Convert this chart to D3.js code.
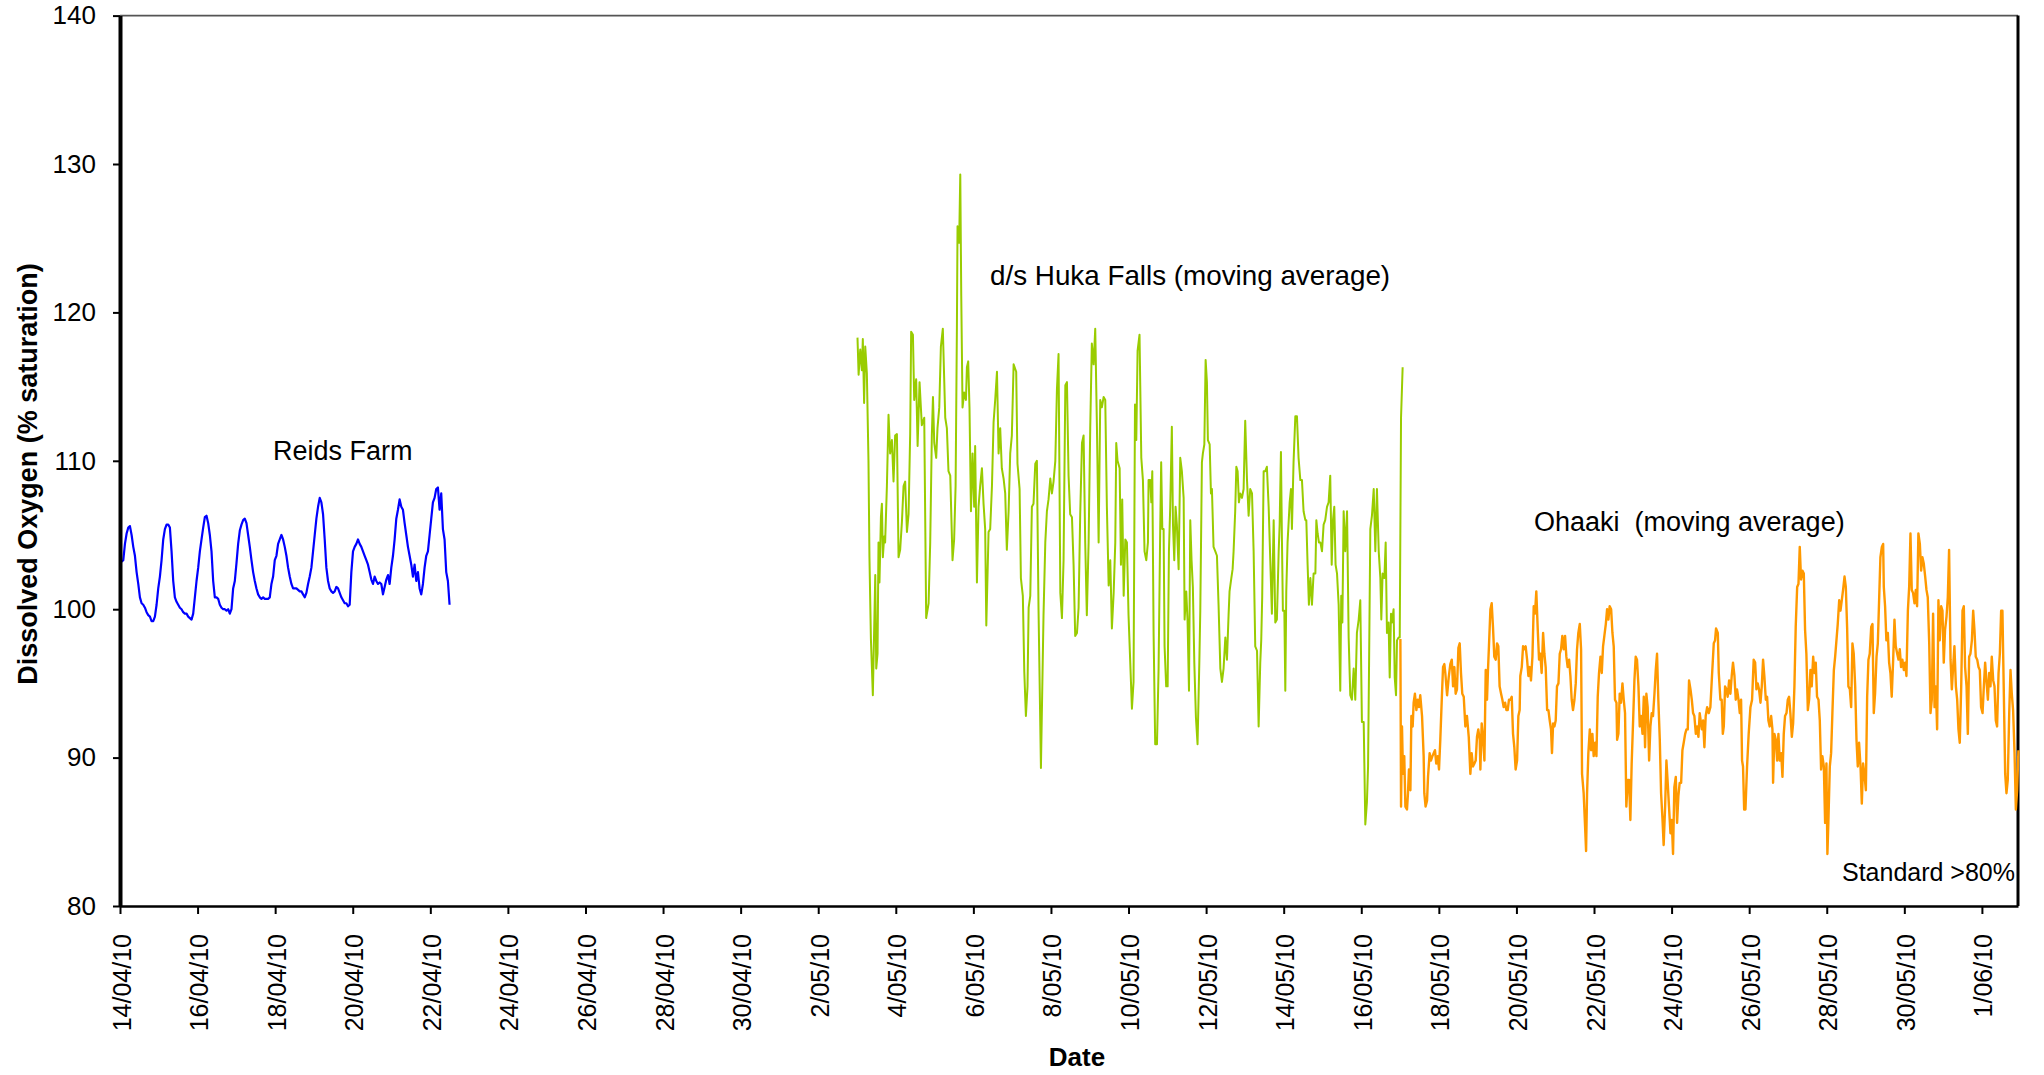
<!DOCTYPE html>
<html>
<head>
<meta charset="utf-8">
<script src="https://cdn.jsdelivr.net/npm/d3@7"></script>
<style>
  body { margin: 0; background: #fff; }
  svg { display: block; font-family: "Liberation Sans", Arial, sans-serif; }
  .tick text { font-size: 25px; fill: #000; }
  .label { font-size: 27px; fill: #000; white-space: pre; }
  .title { font-size: 27px; font-weight: bold; fill: #000; }
</style>
</head>
<body>
<svg id="chart" width="2044" height="1075"></svg>
<script>
// Reids Farm: hourly-ish readings, hours counted from 14/04/2010 00:00
const reidsStart = new Date(2010, 3, 14);
const reidsFirstHour = 1.0;
const reidsStepHours = 1.03;
const reidsDO = [
  103.2,103.3,104.4,105.1,105.5,105.6,105.0,104.2,103.6,102.5,
  101.7,100.8,100.4,100.3,100.1,99.8,99.6,99.5,99.2,99.2,
  99.5,100.3,101.4,102.2,103.3,104.7,105.4,105.7,105.7,105.5,
  103.9,101.9,100.8,100.5,100.3,100.1,100.0,99.8,99.7,99.7,
  99.5,99.4,99.3,99.7,100.8,101.9,102.8,103.9,104.7,105.5,
  106.2,106.3,105.8,105.0,103.9,101.9,100.8,100.8,100.7,100.3,
  100.1,100.0,100.0,99.9,100.0,99.7,100.0,101.4,101.9,103.1,
  104.4,105.3,105.7,106.0,106.1,105.8,105.0,104.2,103.3,102.5,
  101.9,101.4,101.0,100.8,100.7,100.8,100.7,100.7,100.7,100.8,
  101.7,102.2,103.3,103.6,104.4,104.7,105.0,104.7,104.2,103.6,
  102.8,102.2,101.7,101.4,101.4,101.4,101.3,101.2,101.2,101.0,
  100.8,101.1,101.7,102.2,102.8,103.9,105.0,106.1,106.9,107.5,
  107.2,106.4,104.7,102.8,101.9,101.4,101.2,101.1,101.2,101.5,
  101.4,101.1,100.8,100.6,100.4,100.4,100.2,100.3,102.5,103.9,
  104.2,104.4,104.7,104.4,104.2,103.9,103.6,103.3,103.0,102.5,
  102.0,101.7,102.2,101.9,101.7,101.8,101.7,101.0,101.5,102.0,
  102.3,101.7,102.8,103.6,104.7,106.1,106.7,107.4,106.9,106.7,
  105.8,105.0,104.2,103.6,103.0,102.2,103.0,101.9,102.5,101.4,
  101.0,101.7,102.8,103.6,103.9,105.0,106.1,107.2,107.5,108.1,
  108.2,106.7,107.8,105.4,104.7,102.5,101.9,100.3
];

// d/s Huka Falls and Ohaaki: [hours from 3/05/2010 00:00, % saturation]
const mayStart = new Date(2010, 4, 3);
const hukaDO = [
  [0.3,118.3],[1.0,115.8],[2.0,117.5],[3.0,116.1],[3.6,118.2],[4.4,113.9],[5.1,117.7],[6.1,115.9],
  [7.1,110.0],[7.7,103.5],[8.6,98.0],[9.8,94.2],[11.3,102.3],[11.9,96.0],[12.7,97.0],[13.3,104.5],
  [13.9,101.8],[14.8,106.2],[15.4,107.1],[16.0,103.5],[16.8,104.9],[17.4,104.5],[18.5,108.3],[19.5,113.1],
  [20.5,110.5],[21.6,111.4],[22.6,108.6],[23.6,111.7],[24.7,111.8],[25.7,103.5],[26.7,104.0],[27.8,105.9],
  [28.8,108.3],[29.8,108.6],[30.9,105.2],[31.9,106.4],[32.9,111.8],[33.5,118.7],[34.6,118.5],[35.4,114.1],
  [36.6,115.5],[37.5,111.0],[38.7,115.3],[40.1,112.4],[41.6,112.9],[42.8,99.4],[44.3,100.4],[45.3,104.5],
  [46.3,111.7],[47.0,114.3],[47.8,111.2],[49.0,110.2],[49.8,112.2],[50.9,113.6],[51.9,117.7],[53.1,118.9],
  [54.6,112.9],[55.6,112.2],[56.6,109.3],[57.7,109.0],[59.1,103.3],[60.1,104.7],[61.0,108.3],[61.8,118.9],
  [62.2,125.8],[63.2,124.7],[63.9,129.3],[64.5,121.1],[65.3,113.6],[66.3,114.6],[67.4,114.1],[68.0,116.3],
  [68.8,116.7],[69.6,113.6],[70.5,106.6],[71.5,110.5],[72.5,106.9],[73.1,111.0],[74.2,101.8],[75.2,106.9],
  [76.2,108.3],[77.3,109.5],[78.3,107.1],[79.3,105.4],[80.0,98.9],[81.4,105.2],[82.4,105.4],[83.5,108.3],
  [84.5,112.6],[85.5,114.1],[86.6,116.0],[87.6,110.5],[88.6,112.2],[89.6,109.5],[90.7,108.8],[91.7,107.8],
  [92.7,104.0],[93.8,106.6],[94.8,110.5],[95.8,111.7],[96.9,116.5],[98.5,116.0],[99.3,109.8],[100.6,108.1],
  [101.4,102.1],[102.6,100.9],[103.5,95.8],[104.5,92.8],[105.5,94.8],[106.2,100.1],[107.2,100.9],[108.2,106.9],
  [109.2,107.1],[110.3,109.8],[111.3,110.0],[112.3,100.1],[113.8,89.3],[115.4,99.6],[116.5,104.5],[117.5,106.6],
  [118.5,107.4],[119.6,108.8],[120.6,107.8],[121.6,108.6],[122.7,110.0],[123.7,114.8],[124.7,117.2],[125.8,101.1],
  [126.8,99.4],[127.8,103.3],[128.9,115.1],[129.9,115.3],[130.9,109.0],[131.9,106.4],[133.0,106.2],[134.0,103.0],
  [135.0,98.2],[136.1,98.4],[137.1,100.1],[138.1,106.4],[139.2,111.2],[140.2,111.7],[141.2,104.5],[142.2,99.6],
  [143.3,104.5],[144.3,112.2],[145.3,117.9],[146.4,116.5],[147.4,118.9],[148.4,112.6],[149.5,104.5],[150.5,114.1],
  [151.5,113.6],[152.6,114.3],[153.6,114.1],[154.6,106.9],[155.7,101.6],[156.7,103.3],[157.7,98.7],[158.8,101.1],
  [159.8,104.5],[160.4,111.2],[161.2,110.0],[162.5,109.5],[163.3,103.0],[164.1,107.4],[165.0,100.9],[166.0,104.7],
  [167.0,104.5],[168.0,99.6],[170.1,93.3],[171.1,95.1],[172.0,113.8],[172.8,111.4],[173.6,117.4],[174.8,118.5],
  [175.9,110.2],[176.9,108.7],[177.9,103.9],[179.0,103.3],[180.0,104.5],[180.4,108.7],[181.4,108.7],[182.1,107.2],
  [182.7,109.3],[183.5,98.4],[184.5,90.9],[185.6,90.9],[186.6,96.0],[187.6,105.4],[188.2,109.9],[188.9,105.4],
  [189.7,105.4],[190.3,97.5],[191.3,94.8],[192.2,94.8],[193.0,103.9],[193.8,106.9],[194.8,112.3],[195.5,105.7],
  [196.3,103.3],[197.1,106.9],[197.9,105.7],[199.0,102.7],[200.0,110.2],[201.0,109.3],[202.1,107.5],[202.7,99.3],
  [203.7,101.2],[204.5,99.3],[205.4,94.5],[206.2,106.0],[207.0,103.3],[207.8,101.5],[208.7,96.4],[209.7,92.7],
  [210.7,90.9],[211.8,96.4],[212.4,99.9],[213.4,109.9],[214.0,110.5],[214.9,111.1],[215.7,116.8],[216.5,115.3],
  [217.1,111.4],[218.2,111.1],[219.0,107.8],[219.6,108.1],[220.6,104.2],[221.7,103.9],[222.7,103.6],[223.7,100.3],
  [224.8,96.0],[225.8,95.1],[226.8,96.0],[227.9,98.1],[228.9,96.6],[229.9,99.6],[230.5,101.2],[231.6,102.1],
  [232.4,102.7],[233.0,103.9],[234.0,106.6],[234.7,109.6],[235.5,109.3],[236.3,107.2],[237.1,107.8],[238.2,107.5],
  [239.2,108.1],[240.2,112.7],[241.3,108.7],[242.3,106.3],[243.3,108.1],[244.4,107.8],[245.4,103.9],[246.4,97.5],
  [247.5,97.2],[248.5,92.1],[249.5,96.4],[250.1,97.9],[250.7,100.8],[251.6,109.3],[252.6,109.3],[253.6,109.6],
  [254.7,106.9],[255.7,103.3],[256.7,99.7],[257.8,106.0],[258.8,99.1],[259.8,99.3],[260.9,103.9],[261.5,105.7],
  [262.3,110.6],[262.9,104.8],[263.5,99.9],[264.4,99.9],[265.0,94.5],[265.6,101.2],[266.4,104.5],[267.7,107.2],
  [268.5,108.1],[269.1,105.4],[270.1,109.9],[271.2,113.0],[272.2,113.0],[273.2,110.2],[274.3,108.7],[275.3,108.7],
  [276.3,106.6],[277.4,106.0],[278.0,106.0],[278.8,103.0],[279.6,100.3],[280.5,102.1],[281.5,100.3],[282.5,102.4],
  [283.6,102.4],[284.2,106.0],[285.0,105.1],[285.8,104.5],[286.7,104.5],[287.7,103.9],[288.7,105.7],[289.7,106.0],
  [290.8,106.9],[291.8,107.2],[292.8,109.0],[293.7,103.0],[294.5,106.0],[295.3,106.9],[296.1,103.0],[297.0,102.4],
  [298.0,100.3],[299.0,94.5],[299.6,100.9],[300.3,99.1],[301.1,106.6],[302.1,103.9],[303.2,106.6],[304.2,98.1],
  [305.2,94.2],[306.2,93.9],[307.3,96.0],[308.3,93.9],[309.3,98.4],[310.4,99.3],[311.4,100.6],[312.4,92.4],
  [313.5,92.4],[314.5,85.5],[315.5,87.0],[316.2,89.4],[316.8,96.0],[317.6,105.4],[318.6,106.3],[319.7,108.1],
  [320.7,103.9],[321.7,108.1],[322.8,103.9],[323.8,102.1],[324.4,99.3],[325.2,102.4],[326.3,102.1],[327.1,104.5],
  [327.9,98.4],[328.9,99.1],[329.6,95.4],[330.4,99.7],[331.0,99.1],[332.0,100.0],[332.7,95.4],[333.5,94.2],
  [334.1,97.9],[335.1,98.1],[335.8,98.1],[336.6,112.9],[337.6,116.3]
];

const ohaakiDO = [
  [336.2,98.0],[336.6,86.7],[337.2,92.1],[337.8,88.9],[338.6,90.1],[339.3,86.7],[340.3,86.5],[340.9,87.6],[341.5,89.2],[342.4,87.8],
  [343.0,92.8],[343.8,92.1],[344.4,93.7],[345.2,94.3],[346.1,93.2],[346.9,93.9],[347.7,93.4],[348.5,94.2],[349.6,92.8],[350.6,90.1],
  [351.0,87.6],[351.8,86.7],[352.7,87.1],[353.3,88.7],[354.3,90.3],[355.1,89.8],[356.0,90.1],[356.8,90.3],[357.6,90.5],[358.4,89.6],
  [359.3,90.1],[360.1,89.2],[360.9,91.2],[361.8,93.9],[362.6,96.1],[363.4,96.3],[364.0,95.7],[365.1,94.2],[366.1,95.4],[367.1,96.3],
  [368.0,96.6],[368.8,94.8],[369.6,96.1],[370.4,94.3],[371.2,94.6],[372.1,97.4],[372.9,97.7],[373.7,95.7],[374.5,94.3],[375.4,94.1],
  [376.4,92.1],[377.4,92.8],[378.5,91.4],[379.5,88.9],[380.3,90.3],[381.1,89.4],[382.0,89.6],[382.8,89.8],[383.6,91.4],[384.4,91.9],
  [385.3,91.2],[385.7,89.2],[386.5,92.3],[387.3,91.4],[388.2,89.8],[389.0,95.9],[389.8,93.9],[390.4,95.9],[391.0,97.5],[391.9,100.0],
  [392.7,100.4],[393.5,98.8],[394.3,96.8],[395.2,96.6],[396.0,97.7],[396.8,97.5],[397.6,94.8],[398.5,94.3],[399.3,93.9],[400.1,93.4],
  [401.0,93.7],[401.8,93.2],[402.6,93.2],[403.4,93.9],[404.3,93.9],[405.1,94.1],[405.9,91.6],[406.7,90.7],[407.5,89.2],[408.4,89.8],
  [409.2,92.8],[410.0,93.2],[410.4,95.5],[411.3,96.1],[412.1,97.5],[412.9,97.3],[413.7,97.5],[414.6,96.6],[415.4,95.5],[416.2,96.1],
  [417.0,95.2],[417.9,96.8],[418.7,100.2],[419.5,99.7],[420.3,101.2],[421.2,98.6],[422.0,96.6],[422.8,97.0],[423.6,95.7],[424.5,98.4],
  [425.3,97.0],[426.1,96.1],[427.0,93.2],[427.8,93.2],[428.6,92.5],[429.4,91.9],[430.0,90.3],[430.7,92.3],[431.5,92.1],[432.3,92.5],
  [433.1,94.8],[434.0,95.0],[434.8,97.0],[435.6,97.3],[436.4,98.2],[437.3,97.3],[438.1,98.2],[438.9,96.8],[439.7,96.1],[440.6,96.6],
  [441.4,95.5],[442.2,93.9],[443.0,93.2],[443.9,93.9],[444.7,95.0],[445.5,97.3],[446.3,98.4],[447.2,99.0],[448.0,97.3],[448.6,88.9],
  [449.6,87.6],[450.5,85.3],[451.1,83.7],[451.7,87.6],[452.5,90.3],[453.4,91.9],[454.2,90.5],[455.0,91.6],[455.8,90.1],[456.7,91.0],
  [457.5,90.1],[458.3,94.1],[459.1,95.7],[460.0,96.8],[460.8,95.7],[461.6,97.5],[462.4,98.2],[463.3,99.0],[464.1,100.0],[464.9,99.3],
  [465.7,100.2],[466.6,100.0],[467.4,98.4],[468.2,97.5],[469.0,93.9],[469.9,93.7],[470.3,91.2],[471.1,91.6],[471.9,94.3],[472.7,93.7],
  [473.6,95.0],[474.4,93.9],[475.2,93.0],[476.0,86.7],[476.9,88.5],[477.7,88.5],[478.5,85.8],[479.3,89.6],[480.2,92.5],[481.0,95.2],
  [481.8,96.8],[482.6,96.6],[483.5,94.8],[484.3,92.1],[485.1,92.8],[486.0,91.6],[486.8,94.1],[487.6,90.7],[488.4,94.3],[489.2,93.4],
  [490.1,89.8],[490.9,92.1],[491.7,93.0],[492.5,92.8],[493.4,94.3],[494.2,95.9],[495.0,97.0],[495.8,93.9],[496.7,91.2],[497.5,87.6],
  [498.3,86.0],[499.1,84.1],[500.0,86.7],[500.8,89.8],[501.6,88.3],[502.4,86.7],[503.3,84.9],[504.1,85.8],[504.9,83.5],[505.7,88.0],
  [506.6,88.7],[507.4,85.6],[508.2,87.4],[509.0,88.3],[509.9,88.3],[510.7,90.5],[511.5,91.0],[512.4,91.6],[513.2,91.9],[514.0,91.9],
  [514.8,95.2],[515.7,94.6],[516.5,93.9],[517.3,93.0],[518.1,92.8],[519.0,91.6],[519.8,92.1],[520.6,91.4],[521.4,93.0],
  [522.7,91.9],[523.5,92.5],[524.3,90.7],[525.1,92.8],[526.0,93.4],[527.0,93.0],[528.0,93.4],[529.0,95.5],[530.1,97.7],[530.9,97.9],
  [531.5,98.7],[532.6,98.4],[533.2,95.7],[534.2,93.9],[535.0,93.9],[535.7,91.6],[536.3,92.1],[537.1,94.8],[537.9,94.6],[538.7,94.1],
  [539.6,95.2],[540.4,94.3],[541.2,95.5],[542.0,96.4],[542.9,95.5],[543.7,93.9],[544.5,94.6],[545.4,93.9],[546.2,93.0],[547.0,93.9],
  [547.6,89.8],[548.2,89.4],[548.9,86.5],[549.7,86.5],[550.7,89.4],[551.7,91.6],[552.8,93.4],[553.8,93.9],[554.8,96.6],[555.7,96.4],
  [556.5,94.6],[557.3,95.0],[558.1,94.6],[559.0,93.7],[559.8,94.8],[560.6,96.6],[561.4,95.5],[562.3,93.9],[563.1,94.1],[563.9,92.5],
  [564.7,92.1],[565.6,92.8],[566.4,91.9],[566.8,88.3],[567.6,91.6],[568.5,91.2],[569.3,89.8],[570.1,91.6],[570.9,89.8],[571.8,90.3],
  [572.6,88.7],[573.4,91.6],[574.2,92.8],[575.1,93.0],[575.9,93.9],[576.7,94.1],[577.5,93.0],[578.4,91.4],[579.2,92.3],[580.0,94.8],
  [580.8,98.8],[581.7,101.5],[582.5,101.7],[583.3,104.2],[584.1,102.0],[585.0,102.6],[585.8,102.4],[586.6,98.6],[587.4,97.0],[588.3,93.2],
  [589.1,93.9],[589.9,95.9],[590.7,94.8],[591.6,96.8],[592.4,95.7],[593.2,96.4],[594.0,94.1],[594.9,93.9],[595.7,92.5],[596.5,89.2],
  [597.3,90.1],[598.2,89.4],[599.0,85.6],[599.8,89.6],[600.4,83.5],[601.0,85.6],[601.9,89.4],[602.7,90.3],[603.5,93.0],[604.4,95.9],
  [605.2,96.8],[606.0,97.9],[606.8,99.0],[607.7,100.6],[608.5,99.9],[609.3,100.6],[610.1,101.3],[611.0,102.2],[611.8,101.5],[612.6,98.8],
  [613.4,94.8],[614.3,94.6],[615.1,93.4],[615.9,97.7],[616.7,97.0],[617.6,94.8],[618.4,91.2],[619.2,89.4],[620.0,91.0],[620.9,89.4],
  [621.7,86.9],[622.5,89.6],[623.3,88.9],[624.2,87.8],[625.0,94.1],[625.8,96.6],[626.6,97.0],[627.5,98.8],[628.3,99.0],[629.1,93.0],
  [629.9,94.3],[630.8,96.8],[631.6,97.7],[632.4,100.6],[633.2,103.5],[634.1,104.2],[634.9,104.4],[635.3,101.5],[636.1,100.2],[636.9,97.9],
  [637.8,98.4],[638.6,96.4],[639.4,95.7],[640.2,94.1],[641.1,96.6],[641.9,99.3],[642.7,97.5],[643.6,97.0],[644.4,96.6],[645.2,97.3],
  [646.0,96.1],[646.8,96.6],[647.7,95.9],[648.5,96.4],[649.3,95.5],[650.2,99.9],[651.0,101.5],[651.8,105.1],[652.6,101.3],[653.4,101.1],
  [654.3,100.4],[655.1,101.3],[655.9,100.2],[656.7,105.1],[657.6,104.4],[658.4,102.6],[659.2,103.5],[660.0,103.1],[660.9,102.2],[661.7,101.3],
  [662.5,100.8],[663.4,97.7],[664.2,93.0],[665.0,93.9],[665.8,99.7],[666.7,93.4],[667.5,94.8],[668.3,91.9],[669.1,100.6],[669.9,97.9],
  [670.8,100.2],[671.6,99.9],[672.4,96.4],[673.2,98.6],[674.1,99.5],[674.9,100.8],[675.7,104.0],[676.6,96.6],[677.4,94.6],[678.2,96.1],
  [679.0,97.5],[679.9,94.8],[680.7,93.9],[681.5,91.9],[682.3,91.0],[683.2,94.8],[684.0,99.9],[684.8,100.2],[685.6,96.1],[686.5,94.8],
  [687.3,91.6],[688.1,96.8],[688.9,97.0],[689.8,97.9],[690.6,99.9],[691.4,98.6],[692.2,96.8],[693.1,96.6],[693.9,96.1],[694.7,95.9],
  [695.5,93.4],[696.4,93.0],[697.2,94.8],[698.0,96.4],[698.8,95.2],[699.7,93.9],[700.5,95.7],[701.3,94.8],[702.1,96.8],[703.0,95.2],
  [703.8,94.8],[704.6,92.5],[705.4,92.1],[706.3,95.7],[707.1,97.0],[707.9,99.9],[708.7,99.9],[709.6,94.1],[710.4,88.9],[711.2,87.6],
  [712.0,88.5],[712.9,93.0],[713.7,95.9],[714.5,94.3],[715.3,93.2],[716.2,90.3],[717.0,86.5],[717.8,87.8],[718.6,90.5]
];

const yTicks = [80, 90, 100, 110, 120, 130, 140];
const axisStart = new Date(2010, 3, 14);
const axisEnd = new Date(2010, 5, 1, 22, 20);
const dateTicks = d3.range(0, 49, 2).map(d => d3.timeDay.offset(axisStart, d));

const plotLeft = 120, plotRight = 2018, plotTop = 15.6, plotBottom = 906;

const svg = d3.select("#chart");

const x = d3.scaleTime().domain([axisStart, axisEnd]).range([plotLeft, plotRight]);
const y = d3.scaleLinear().domain([80, 140]).range([plotBottom, plotTop]);

const hoursAfter = (start, h) => new Date(start.getTime() + h * 3600000);

const reidsPts = reidsDO.map((v, i) => [hoursAfter(reidsStart, reidsFirstHour + i * reidsStepHours), v]);
const hukaPts = hukaDO.map(d => [hoursAfter(mayStart, d[0]), d[1]]);
const ohaakiPts = ohaakiDO.map(d => [hoursAfter(mayStart, d[0]), d[1]]);

const line = d3.line()
  .x(d => x(d[0]))
  .y(d => y(d[1]));

// plot frame: thin top, heavier right side
svg.append("line")
  .attr("x1", plotLeft).attr("x2", plotRight)
  .attr("y1", plotTop).attr("y2", plotTop)
  .attr("stroke", "#555").attr("stroke-width", 1.6);
svg.append("line")
  .attr("x1", plotRight).attr("x2", plotRight)
  .attr("y1", plotTop).attr("y2", plotBottom)
  .attr("stroke", "#000").attr("stroke-width", 3);

// series
svg.append("path").datum(reidsPts)
  .attr("fill", "none").attr("stroke", "#0000FF")
  .attr("stroke-width", 2.2).attr("stroke-linejoin", "round")
  .attr("d", line);

svg.append("path").datum(hukaPts)
  .attr("fill", "none").attr("stroke", "#99CC00")
  .attr("stroke-width", 2).attr("stroke-linejoin", "round")
  .attr("d", line);

svg.append("path").datum(ohaakiPts)
  .attr("fill", "none").attr("stroke", "#FF9900")
  .attr("stroke-width", 2.4).attr("stroke-linejoin", "round")
  .attr("d", line);

// x axis
const xAxis = svg.append("g")
  .attr("transform", "translate(0," + plotBottom + ")")
  .call(d3.axisBottom(x)
    .tickValues(dateTicks)
    .tickSize(8)
    .tickSizeOuter(0)
    .tickFormat(d3.timeFormat("%-d/%m/%y")));
xAxis.select(".domain").attr("stroke", "#000").attr("stroke-width", 2.5);
xAxis.selectAll(".tick line").attr("stroke", "#000").attr("stroke-width", 2);
xAxis.selectAll(".tick text")
  .attr("transform", "rotate(-90)")
  .attr("text-anchor", "end")
  .attr("x", -28)
  .attr("y", 10)
  .attr("dy", null);

// y axis
const yAxis = svg.append("g")
  .attr("transform", "translate(" + plotLeft + ",0)")
  .call(d3.axisLeft(y)
    .tickValues(yTicks)
    .tickSize(7)
    .tickSizeOuter(0)
    .tickPadding(17));
yAxis.select(".domain").attr("stroke", "#000").attr("stroke-width", 4);
yAxis.selectAll(".tick line").attr("stroke", "#000").attr("stroke-width", 2);
yAxis.selectAll(".tick text").style("font-size", "26px");

// axis titles
svg.append("text")
  .attr("class", "title")
  .attr("transform", "translate(37,474) rotate(-90)")
  .attr("text-anchor", "middle")
  .text("Dissolved Oxygen (% saturation)");

svg.append("text")
  .attr("class", "title")
  .attr("x", 1077).attr("y", 1066)
  .attr("text-anchor", "middle")
  .style("font-size", "26px")
  .text("Date");

// series labels
svg.append("text").attr("class", "label")
  .attr("x", 273).attr("y", 460)
  .text("Reids Farm");

svg.append("text").attr("class", "label")
  .attr("x", 990).attr("y", 285)
  .style("font-size", "27.8px")
  .text("d/s Huka Falls (moving average)");

svg.append("text").attr("class", "label")
  .attr("x", 1534).attr("y", 531)
  .text("Ohaaki  (moving average)");

svg.append("text").attr("class", "label")
  .attr("x", 2015).attr("y", 881)
  .attr("text-anchor", "end")
  .style("font-size", "25px")
  .text("Standard >80%");
</script>
</body>
</html>
